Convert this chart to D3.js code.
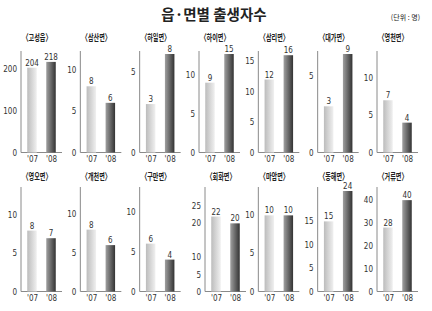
<!DOCTYPE html>
<html><head><meta charset="utf-8">
<script src="https://cdn.jsdelivr.net/npm/d3@7"></script>
<style>
html,body{margin:0;padding:0;background:#fff;}
svg{display:block;}
.num{font-family:"Liberation Sans Narrow","DejaVu Sans Condensed","Arial Narrow",sans-serif;font-size:8px;fill:#333;}
.kr{font-family:"Noto Sans CJK KR","Noto Sans",sans-serif;fill:#222;}
</style></head>
<body>
<svg id="chart" width="432" height="311"></svg>
<script>
// ---- data ----
const title = "읍·면별 출생자수";
const unitLabel = "(단위 : 명)";
const regions = ["고성읍","삼산면","하일면","하이면","삼리면","대가면","영천면",
                 "영오면","개천면","구만면","회화면","마암면","동해면","거류면"];
const years = ["'07","'08"];
const births2007 = [204, 8, 3, 9, 12, 3, 7, 8, 8, 6, 22, 10, 15, 28];
const births2008 = [218, 6, 8, 15, 16, 9, 4, 7, 6, 4, 20, 10, 24, 40];
const yTickValues = [
  [0,100,200],[0,5,10],[0,5],[0,5,10],[0,5,10,15],[0,5],[0,5,10],
  [0,5,10],[0,5,10],[0,5,10],[0,5,10,20,25],[0,5,10],[0,5,10,15],[0,10,20,30,40]
];
const yDomainMax = [237, 11.9, 6.1, 12.7, 16.2, 6.4, 13.2, 13.2, 13, 12.6, 29.5, 13.2, 21.5, 44];

// ---- layout ----
const svg = d3.select("#chart");
const defs = svg.append("defs");
function grad(id, c0, c1){
  const g = defs.append("linearGradient").attr("id", id).attr("x1","0%").attr("x2","100%").attr("y1","0%").attr("y2","0%");
  g.append("stop").attr("offset","0%").attr("stop-color", c0);
  g.append("stop").attr("offset","100%").attr("stop-color", c1);
}
grad("g07", "#bcbcbc", "#f0f0f0");
grad("g08", "#a0a0a0", "#333333");

svg.append("text").attr("class","kr").attr("x",214).attr("y",20)
  .attr("text-anchor","middle").attr("font-size",14.5).attr("font-weight","bold").text(title);
svg.append("text").attr("class","kr").attr("x",420).attr("y",20)
  .attr("text-anchor","end").attr("font-size",7).text(unitLabel);

const colX = d3.scalePoint().domain(d3.range(7)).range([21, 377]);
const rows = [{base:152.5, top:51, titleY:41, barTop:54}, {base:291.5, top:187, titleY:179.5, barTop:191}];

regions.forEach((name, i) => {
  const row = rows[Math.floor(i / 7)];
  const ax = colX(i % 7) + (name === "회화면" ? 6 : 0);
  const y = d3.scaleLinear().domain([0, yDomainMax[i]]).range([row.base, row.barTop]).clamp(true);
  const x = d3.scalePoint().domain(years).range([ax + 11, ax + 30]);
  const bw = 9.5;
  const g = svg.append("g");

  g.append("text").attr("class","kr").attr("x", ax + 16).attr("y", row.titleY)
    .attr("text-anchor","middle").attr("font-size",9.5).attr("font-weight","bold")
    .attr("textLength", 29).attr("lengthAdjust","spacingAndGlyphs")
    .text("〈" + name + "〉");

  // y axis
  const yAxis = d3.axisLeft(y).tickValues(yTickValues[i]).tickSize(0).tickPadding(4).tickFormat(d3.format("d"));
  const ya = g.append("g").attr("transform", `translate(${ax},0)`).call(yAxis);
  ya.select(".domain").remove();
  ya.selectAll("text").attr("class","num").attr("font-family",null).attr("font-size",null);
  g.append("line").attr("x1",ax).attr("x2",ax).attr("y1",row.top).attr("y2",row.base)
    .attr("stroke","#8a8a8a").attr("stroke-width",1);

  // x axis
  const xAxis = d3.axisBottom(x).tickSize(0).tickPadding(4);
  const xa = g.append("g").attr("transform", `translate(0,${row.base})`).call(xAxis);
  xa.select(".domain").remove();
  xa.selectAll("text").attr("class","num").attr("font-family",null).attr("font-size",null);
  g.append("line").attr("x1",ax).attr("x2",ax + 41).attr("y1",row.base).attr("y2",row.base)
    .attr("stroke","#8a8a8a").attr("stroke-width",1);

  const vals = [{yr:years[0], v:births2007[i], fill:"url(#g07)"}, {yr:years[1], v:births2008[i], fill:"url(#g08)"}];
  g.selectAll("rect.bar").data(vals).enter().append("rect").attr("class","bar")
    .attr("x", d => x(d.yr) - bw/2).attr("width", bw)
    .attr("y", d => y(d.v)).attr("height", d => row.base - y(d.v))
    .attr("fill", d => d.fill);
  g.selectAll("text.val").data(vals).enter().append("text").attr("class","num val")
    .attr("x", d => x(d.yr)).attr("y", d => y(d.v) - 2).attr("text-anchor","middle")
    .text(d => d.v);
});
</script>
</body></html>
